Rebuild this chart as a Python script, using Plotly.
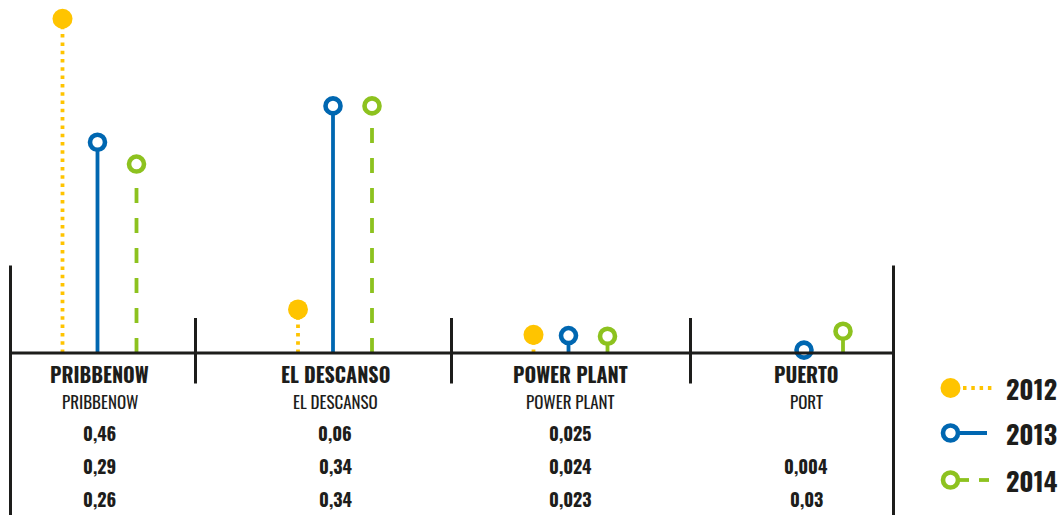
import plotly.graph_objects as go

# ---------------- data ----------------
categories = ["PRIBBENOW", "EL DESCANSO", "POWER PLANT", "PUERTO"]
subtitles = ["PRIBBENOW", "EL DESCANSO", "POWER PLANT", "PORT"]
years = ["2012", "2013", "2014"]
v2012 = [0.46, 0.06, 0.025, None]
v2013 = [0.29, 0.34, 0.024, 0.004]
v2014 = [0.26, 0.34, 0.023, 0.03]
series_values = [v2012, v2013, v2014]

# ---------------- styles ----------------
W, H = 1058, 515
BASE_PX = 353.0        # pixel row of the zero line
PPU = 726.7            # pixels per unit of value
CAT0 = 99.5            # pixel of first category centre
CAT_STEP = 235.5       # pixels between categories
DARK = "#1d1d1b"
FONT = "Oswald, Roboto Condensed, sans-serif"

styles = [
    dict(color="#FFC400", dash="3.5px,4.8px", offset=-37, filled=True),
    dict(color="#0067B1", dash="solid", offset=-2, filled=False),
    dict(color="#8DC21F", dash="15px,15px", offset=37, filled=False),
]

fig = go.Figure()

# stems
for vals, st in zip(series_values, styles):
    xs, ys = [], []
    for i, v in enumerate(vals):
        if v is None:
            continue
        x = i + st["offset"] / CAT_STEP
        xs += [x, x, None]
        ys += [0, v, None]
    fig.add_trace(go.Scatter(x=xs, y=ys, mode="lines", hoverinfo="skip",
                             line=dict(color=st["color"], width=3.8, dash=st["dash"]),
                             showlegend=False))

def marker_style(st):
    if st["filled"]:
        return dict(size=20, color=st["color"], line=dict(width=0))
    return dict(size=15, color="white", line=dict(width=4.6, color=st["color"]))

# heads
for vals, st, yr in zip(series_values, styles, years):
    xs, ys = [], []
    for i, v in enumerate(vals):
        if v is None:
            continue
        xs.append(i + st["offset"] / CAT_STEP)
        ys.append(v)
    fig.add_trace(go.Scatter(x=xs, y=ys, mode="markers", name=yr,
                             marker=marker_style(st), showlegend=False))

# ---------------- frame lines ----------------
def pxx(p):
    return p / W

def pxy(p):
    return 1 - p / H

line_style = dict(color=DARK, width=3)
shapes = [
    dict(type="line", xref="paper", yref="paper", x0=pxx(10.5), x1=pxx(893.5),
         y0=pxy(BASE_PX), y1=pxy(BASE_PX), line=line_style),
    dict(type="line", xref="paper", yref="paper", x0=pxx(10.5), x1=pxx(10.5),
         y0=pxy(265.5), y1=pxy(515), line=line_style),
    dict(type="line", xref="paper", yref="paper", x0=pxx(893.5), x1=pxx(893.5),
         y0=pxy(265.5), y1=pxy(515), line=line_style),
]
for sx in [195.5, 451.5, 690.5]:
    shapes.append(dict(type="line", xref="paper", yref="paper", x0=pxx(sx), x1=pxx(sx),
                       y0=pxy(318), y1=pxy(383.5), line=line_style))

# ---------------- table texts ----------------
annotations = []
for i, (c, s) in enumerate(zip(categories, subtitles)):
    annotations.append(dict(x=i, xref="x", y=pxy(373.5), yref="paper", text=c,
                            showarrow=False, xanchor="center", yanchor="middle",
                            font=dict(family=FONT, size=20, color=DARK, weight=700)))
    annotations.append(dict(x=i, xref="x", y=pxy(401), yref="paper", text=s,
                            showarrow=False, xanchor="center", yanchor="middle",
                            font=dict(family=FONT, size=17, color=DARK, weight=400)))
row_px = [432.5, 466, 498.5]
for vals, rp in zip(series_values, row_px):
    for i, v in enumerate(vals):
        if v is None:
            continue
        annotations.append(dict(x=i, xref="x", y=pxy(rp), yref="paper",
                                text=str(v).replace(".", ","),
                                showarrow=False, xanchor="center", yanchor="middle",
                                font=dict(family=FONT, size=18, color=DARK, weight=700)))

# ---------------- legend (custom, on an overlay pixel axis) ----------------
leg_y = [388, 433, 480]
leg_x = 950.5
for yr, st, ly in zip(years, styles, leg_y):
    if st["dash"] == "solid":
        fig.add_trace(go.Scatter(x=[leg_x, 987], y=[ly, ly], xaxis="x2", yaxis="y2", mode="lines",
                                 line=dict(color=st["color"], width=3.8), showlegend=False,
                                 hoverinfo="skip"))
    elif st["filled"]:
        fig.add_trace(go.Scatter(x=[963, 995], y=[ly, ly], xaxis="x2", yaxis="y2", mode="lines",
                                 line=dict(color=st["color"], width=3.8, dash=st["dash"]),
                                 showlegend=False, hoverinfo="skip"))
    else:
        fig.add_trace(go.Scatter(x=[leg_x, 969, None, 979, 989], y=[ly, ly, None, ly, ly],
                                 xaxis="x2", yaxis="y2", mode="lines",
                                 line=dict(color=st["color"], width=3.8),
                                 showlegend=False, hoverinfo="skip"))
    fig.add_trace(go.Scatter(x=[leg_x], y=[ly], xaxis="x2", yaxis="y2", mode="markers",
                             marker=marker_style(st), showlegend=False, hoverinfo="skip"))
    annotations.append(dict(x=1004, y=ly, xref="x2", yref="y2", text=yr, showarrow=False,
                            xanchor="left", yanchor="middle",
                            font=dict(family=FONT, size=26, color=DARK, weight=700)))

fig.update_layout(
    width=W, height=H, margin=dict(l=0, r=0, t=0, b=0),
    paper_bgcolor="white", plot_bgcolor="white",
    xaxis=dict(range=[(0 - CAT0) / CAT_STEP, (W - CAT0) / CAT_STEP], visible=False,
               fixedrange=True),
    yaxis=dict(range=[-(H - BASE_PX) / PPU, BASE_PX / PPU], visible=False, fixedrange=True),
    xaxis2=dict(range=[0, W], overlaying="x", visible=False, fixedrange=True),
    yaxis2=dict(range=[H, 0], overlaying="y", visible=False, fixedrange=True),
    shapes=shapes, annotations=annotations, showlegend=False,
)

fig.write_html("out.html", config={"displayModeBar": False},
               post_script="document.body.style.margin='0';document.body.style.padding='0';")
